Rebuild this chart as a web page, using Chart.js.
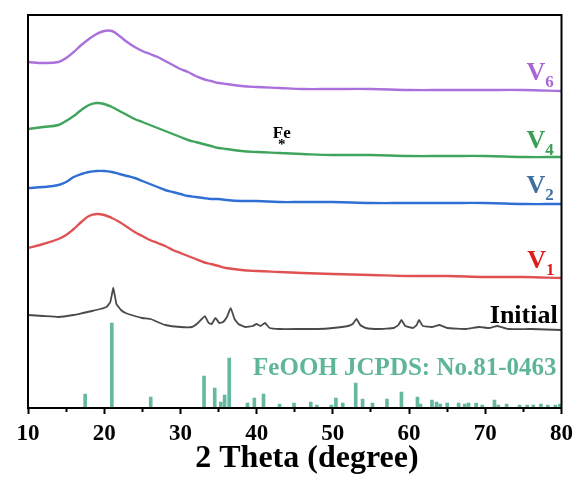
<!DOCTYPE html>
<html>
<head>
<meta charset="utf-8">
<script src="https://cdn.jsdelivr.net/npm/chart.js@4.4.1/dist/chart.umd.min.js"></script>
<style>
  html, body { margin: 0; padding: 0; background: #fff; }
  #wrap { width: 579px; height: 484px; }
</style>
</head>
<body>
<div id="wrap"><canvas id="xrd" width="579" height="484"></canvas></div>
<script>
// 2-theta sampling of the amorphous patterns (degree)
const thetaAmorphous = [10, 12, 14, 15, 16, 17, 18, 19, 20, 21, 22, 23, 24, 25, 26, 27, 28, 29, 30, 31,
  32, 33, 34, 35, 36, 38, 40, 43, 46, 50, 55, 60, 65, 70, 75, 80];

// stacked intensities (a.u., offsets included)
const countsV6 = [346, 345, 346, 350, 356, 363, 369, 374, 377, 377, 372, 366, 361, 357, 354, 351, 347, 343, 339, 336,
  332, 329, 327, 325, 324, 322, 321, 320, 319, 319, 319, 318, 318, 318, 318, 317];
const countsV4 = [279, 281, 283, 287, 292, 298, 303, 305, 304, 301, 297, 293, 289, 286, 283, 280, 277, 274, 271, 268,
  266, 264, 262, 260, 259, 257, 256, 255, 254, 253, 253, 252, 252, 252, 251, 251];
const countsV2 = [220, 221, 223, 226, 231, 234, 236, 237, 237, 236, 234, 232, 230, 227, 224, 221, 218, 216, 214, 212,
  211, 210, 209, 209, 208, 207, 207, 206, 206, 206, 205, 205, 205, 205, 204, 204];
const countsV1 = [160, 164, 169, 173, 179, 186, 192, 194, 193, 190, 186, 181, 176, 172, 168, 165, 162, 158, 155, 152,
  149, 146, 144, 142, 140, 138, 137, 136, 135, 134, 133, 132, 132, 131, 131, 130];

// initial (crystalline) sample
const thetaInitial = [10, 12, 14, 16, 17.2, 18.4, 19.5, 20.3, 20.8, 21.2, 21.6, 22.2, 22.8, 24, 25, 26.1, 27, 28, 30, 31.5,
  32.3, 32.8, 33.2, 33.7, 34.1, 34.6, 35.1, 35.6, 36.1, 36.6, 37.1, 37.6, 38.5, 39.5, 40, 40.5, 41.1, 41.7, 43, 45.6,
  48, 50, 52, 52.6, 53.1, 53.6, 54.3, 56, 58, 58.6, 59, 59.5, 60.5, 61, 61.3, 61.8, 63, 64, 65, 67.5,
  69.2, 70.5, 71.6, 73, 76, 80];
const countsInitial = [93, 92, 91, 93, 95, 97, 99, 101, 106, 120, 104, 98, 95, 92, 90, 89, 86, 83, 81, 81,
  85, 89, 92, 85, 84, 90, 85, 86, 91, 100, 89, 84, 81, 82, 84, 82, 85, 80, 79, 79,
  79, 80, 82, 84, 89, 83, 80, 79, 80, 83, 88, 82, 80, 83, 88, 82, 81, 83, 80, 79,
  81, 80, 82, 79, 79, 78];

// FeOOH reference card JCPDS 81-0463
const refTheta = [17.5, 21.0, 26.1, 33.1, 34.5, 35.3, 35.8, 36.4, 38.8, 39.7, 40.9, 43.0, 44.9, 47.1, 47.9, 49.8,
  50.4, 51.3, 53.0, 53.9, 55.2, 57.1, 59.0, 61.1, 61.5, 63.0, 63.6, 64.1, 65.0, 66.5, 67.3, 67.8, 68.8, 69.6,
  71.2, 71.7, 72.8, 74.5, 75.5, 76.3, 77.3, 78.2, 79.2, 79.8];
const refIntensity = [14, 85, 11, 32, 20, 6, 13, 50, 5, 10, 14, 4, 5, 6, 3, 3,
  10, 5, 25, 9, 5, 9, 16, 11, 4, 8, 6, 4, 5, 5, 4, 5, 5, 3,
  8, 3, 4, 3, 3, 3, 4, 3, 3, 4];

const xTicks = [10, 20, 30, 40, 50, 60, 70, 80];

const serif = '"Liberation Serif", "Times New Roman", serif';
const toPoints = (xs, ys) => xs.map((x, i) => ({ x: x, y: ys[i] }));

// text placed in data coordinates (theta, counts)
const annotations = [
  { text: 'V', sub: '6', color: '#a866d8', theta: 75.4, counts: 328, size: 26 },
  { text: 'V', sub: '4', color: '#3b9e52', theta: 75.4, counts: 260, size: 26 },
  { text: 'V', sub: '2', color: '#3f6f9f', theta: 75.4, counts: 215, size: 26 },
  { text: 'V', sub: '1', color: '#dd1c1c', theta: 75.5, counts: 140, size: 26 },
  { text: 'Initial', color: '#000', theta: 79.5, counts: 85, size: 26, align: 'right' },
  { text: 'FeOOH JCPDS: No.81-0463', color: '#5fb598', theta: 79.35, counts: 33, size: 25, align: 'right' },
  { text: 'Fe', color: '#000', theta: 43.3, counts: 270, size: 17, align: 'center' },
  { text: '*', color: '#000', theta: 43.3, counts: 259, size: 15, align: 'center' }
];

const frame = {
  id: 'frame',
  afterDatasetsDraw(chart) {
    const { ctx, chartArea: a } = chart;
    ctx.save();
    ctx.strokeStyle = '#000';
    ctx.lineWidth = 2;
    ctx.strokeRect(a.left, a.top, a.right - a.left, a.bottom - a.top);
    ctx.restore();
  }
};

const labels = {
  id: 'labels',
  afterDraw(chart) {
    const { ctx } = chart;
    const xs = chart.scales.x, ys = chart.scales.y;
    ctx.save();
    ctx.textBaseline = 'alphabetic';
    annotations.forEach(a => {
      const px = xs.getPixelForValue(a.theta);
      const py = ys.getPixelForValue(a.counts);
      ctx.fillStyle = a.color;
      ctx.font = 'bold ' + a.size + 'px ' + serif;
      ctx.textAlign = a.align || 'left';
      ctx.fillText(a.text, px, py);
      if (a.sub) {
        const w = ctx.measureText(a.text).width;
        ctx.font = 'bold ' + Math.round(a.size * 0.66) + 'px ' + serif;
        ctx.textAlign = 'left';
        ctx.fillText(a.sub, px + w, py + 7);
      }
    });
    // axis title
    ctx.fillStyle = '#000';
    ctx.font = 'bold 32px ' + serif;
    ctx.textAlign = 'center';
    ctx.fillText('2 Theta (degree)', xs.getPixelForValue(46.6), chart.height - 17);
    ctx.restore();
  }
};

const lineStyle = (color, width) => ({
  borderColor: color,
  borderWidth: width,
  pointRadius: 0,
  fill: false,
  tension: 0.4
});

new Chart(document.getElementById('xrd'), {
  type: 'line',
  data: {
    datasets: [
      {
        type: 'bar',
        label: 'FeOOH JCPDS: No.81-0463',
        data: toPoints(refTheta, refIntensity),
        backgroundColor: '#66b9a0',
        barThickness: 3
      },
      Object.assign(lineStyle('#4a4a4a', 1.8), { label: 'Initial', data: toPoints(thetaInitial, countsInitial), tension: 0.1 }),
      Object.assign(lineStyle('#e05252', 2.4), { label: 'V1', data: toPoints(thetaAmorphous, countsV1) }),
      Object.assign(lineStyle('#2f6fd4', 2.4), { label: 'V2', data: toPoints(thetaAmorphous, countsV2) }),
      Object.assign(lineStyle('#3fa55c', 2.4), { label: 'V4', data: toPoints(thetaAmorphous, countsV4) }),
      Object.assign(lineStyle('#aa70dc', 2.4), { label: 'V6', data: toPoints(thetaAmorphous, countsV6) })
    ]
  },
  options: {
    responsive: false,
    devicePixelRatio: 1,
    animation: false,
    layout: { padding: { left: 28, right: 17, top: 15, bottom: 0 } },
    plugins: { legend: { display: false }, tooltip: { enabled: false } },
    scales: {
      x: {
        type: 'linear',
        min: 10,
        max: 80,
        offset: false,
        afterBuildTicks: s => {
          s.ticks = [];
          for (let v = 10; v <= 80; v += 5) s.ticks.push({ value: v });
        },
        ticks: {
          autoSkip: false,
          maxRotation: 0,
          padding: 6,
          color: '#000',
          font: { family: serif, size: 23, weight: 'bold' },
          callback: v => xTicks.includes(v) ? String(v) : ''
        },
        grid: {
          drawOnChartArea: false,
          offset: false,
          tickLength: 6,
          tickWidth: 2,
          tickColor: '#000',
          tickBorderDash: c => (c.tick && xTicks.includes(c.tick.value)) ? [] : [3, 20]
        },
        border: { display: true, color: '#000', width: 2 },
        afterFit: s => { s.height = 76; }
      },
      y: { display: false, min: 0, max: 393 }
    }
  },
  plugins: [frame, labels]
});
</script>
</body>
</html>
